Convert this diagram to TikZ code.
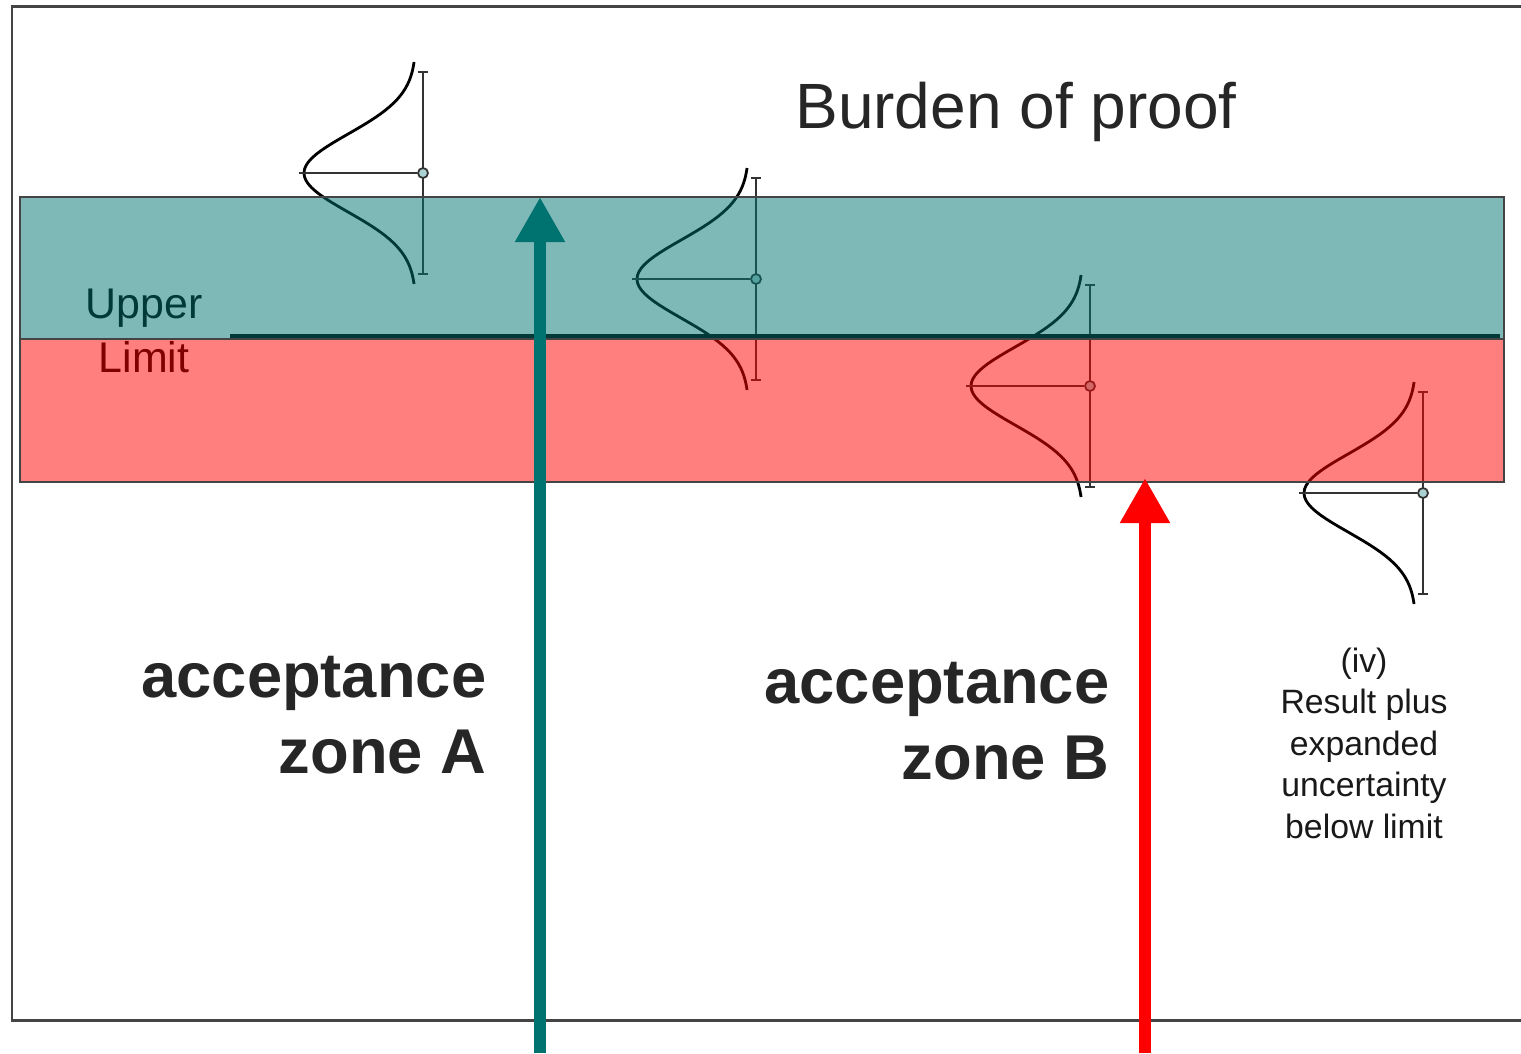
\documentclass[tikz,border=0pt]{standalone}
\usepackage{fontspec}
\setmainfont{Liberation Sans}
\usetikzlibrary{arrows.meta,positioning}
\definecolor{zoneteal}{RGB}{0,115,112}
\definecolor{zonered}{RGB}{255,0,0}
\definecolor{framegray}{RGB}{68,68,68}
\definecolor{dotfill}{RGB}{170,210,210}
\definecolor{inkgray}{RGB}{38,38,38}

\begin{document}
\begin{tikzpicture}[x=0.01cm,y=-0.01cm]
  \tikzstyle{frame}=[draw=framegray,line width=0.85pt]
  \tikzstyle{curve}=[black,line width=0.8pt]
  \tikzstyle{bar}=[black!80,line width=0.55pt]
  \tikzstyle{dot}=[circle,draw=black!80,fill=dotfill,line width=0.5pt,inner sep=0pt,minimum size=1mm]
  \tikzstyle{band}=[fill opacity=0.5]
  \tikzstyle{bandline}=[draw=framegray,line width=0.6pt]
  \tikzstyle{bigarrow}=[-{Triangle[length=0.45cm,width=0.47cm]},line width=3.4pt]
  \tikzstyle{zone}=[inner sep=0pt,align=right,text=inkgray,font=\fontsize{18pt}{21.6pt}\selectfont\bfseries]
  \tikzstyle{limittext}=[inner sep=0pt,font=\fontsize{12.2pt}{14.6pt}\selectfont]
  \tikzstyle{note}=[inner sep=0pt,align=center,text=black!90,font=\fontsize{9.6pt}{11.8pt}\selectfont]

  \useasboundingbox (0,0) rectangle (1521,1053);

  % bell curves, drawn under the coloured bands
  \foreach \cx/\cy [count=\i] in {423/173,756/279,1090/386,1423/493} {
    \draw [curve] plot [domain=-111:111,samples=61] ({\cx-7-112*exp(-(\x*\x)/3042)},{\cy+\x});
    \draw [bar] (\cx,\cy-101) -- (\cx,\cy+101);
    \draw [bar] (\cx-5,\cy-101) -- (\cx+5,\cy-101);
    \draw [bar] (\cx-5,\cy+101) -- (\cx+5,\cy+101);
    \node [dot] (m\i) at (\cx,\cy) {};
    \draw [bar] (m\i.west) -- ++(-118,0);
  }

  % upper limit
  \node [limittext,anchor=base] (upper) at (144,318) {Upper};
  \node [limittext] (limit) [below=0.13cm of upper] {Limit};
  \coordinate (limstart) at (230,336);
  \coordinate (limend) at (1500,336);
  \draw [line width=1.4pt] (limstart) -- (limend);

  \fill [band,zoneteal] (20,197) rectangle (1504,339);
  \fill [band,zonered] (20,339) rectangle (1504,482);
  \draw [bandline] (20,197) rectangle (1504,482);
  \draw [bandline] (20,339) -- (1504,339);

  \draw [frame] (1521,6) -- (12,6) -- (12,1020) -- (1521,1020);

  % acceptance arrows
  \coordinate (footA) at (540,1053);
  \coordinate (tipA) at (540,197);
  \coordinate (footB) at (1145,1053);
  \coordinate (tipB) at (1145,478);
  \draw [bigarrow,zoneteal] (footA) -- (tipA);
  \draw [bigarrow,zonered] (footB) -- (tipB);

  \node [inner sep=0pt,text=inkgray,font=\fontsize{18.2pt}{22pt}\selectfont,anchor=base] (burden) at (1016,128) {Burden of proof};
  \node [zone,anchor=base east] (zoneA) at (487,773) {acceptance\\zone A};
  \node [zone,anchor=base east] (zoneB) at (1110,779) {acceptance\\zone B};
  \node [note,anchor=base] (result) at (1364,838) {(iv)\\Result plus\\expanded\\uncertainty\\below limit};
\end{tikzpicture}
\end{document}
